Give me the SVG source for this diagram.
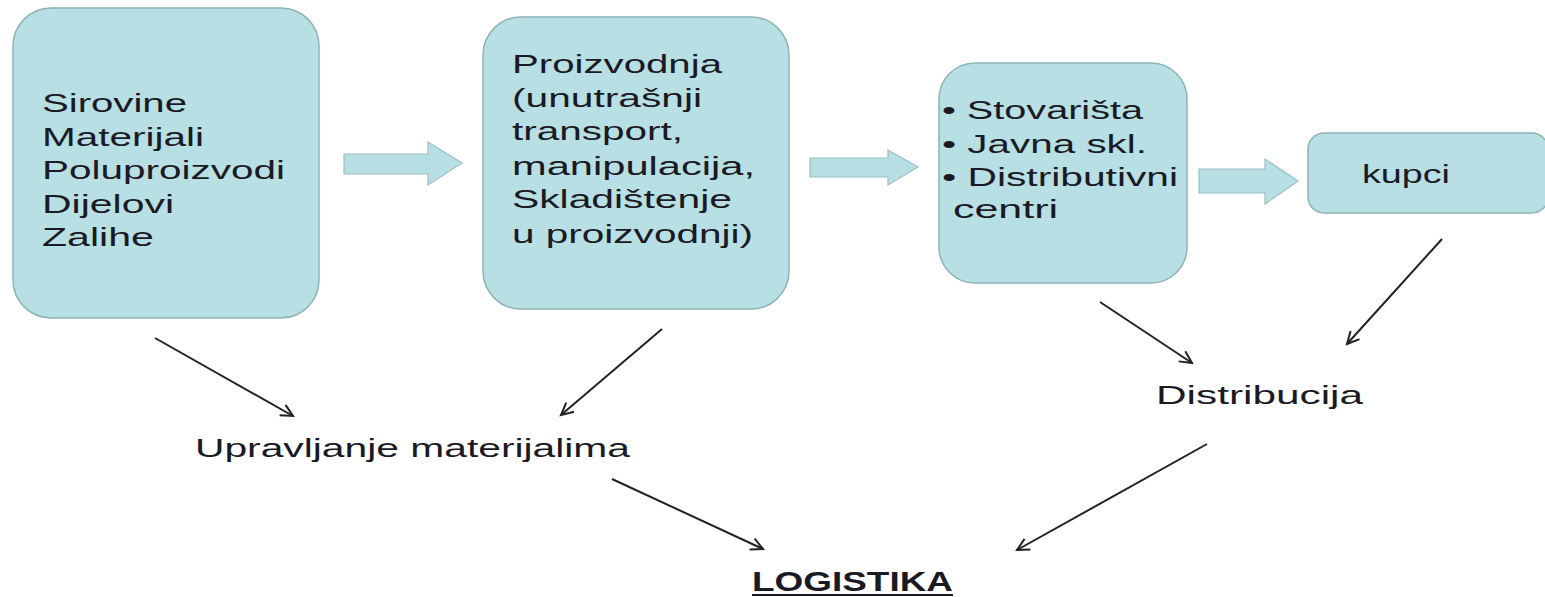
<svg xmlns="http://www.w3.org/2000/svg" width="1545" height="597" viewBox="0 0 1545 597">
<defs>
<marker id="ah" markerUnits="userSpaceOnUse" markerWidth="20" markerHeight="20" refX="14" refY="8" orient="auto">
<path d="M2,2 L14,8 L2,14" fill="none" stroke="#222" stroke-width="2"/>
</marker>
<style>
.box{fill:#b8dfe3;stroke:#8fb3b6;stroke-width:1.5}
.blk{fill:#b8dfe3;stroke:#9cc0c3;stroke-width:1.2}
.t{font-family:"Liberation Sans",Arial,sans-serif;font-size:26px;fill:#1a1a24}
.lbl{font-family:"Liberation Sans",Arial,sans-serif;font-size:25px;fill:#1a1a24}
.bold{font-family:"Liberation Sans",Arial,sans-serif;font-size:27px;font-weight:bold;fill:#1a1a24}
.c{stroke:#222;stroke-width:2;fill:none;marker-end:url(#ah)}
</style>
</defs>
<rect width="1545" height="597" fill="#fff"/>

<g id="node-sirovine">
<rect class="box" x="13" y="8" width="306" height="310" rx="38"/>
<text class="t" x="42" y="112" textLength="145" lengthAdjust="spacingAndGlyphs">Sirovine</text>
<text class="t" x="42" y="146" textLength="162" lengthAdjust="spacingAndGlyphs">Materijali</text>
<text class="t" x="42" y="179" textLength="243" lengthAdjust="spacingAndGlyphs">Poluproizvodi</text>
<text class="t" x="42" y="213" textLength="132" lengthAdjust="spacingAndGlyphs">Dijelovi</text>
<text class="t" x="42" y="246" textLength="112" lengthAdjust="spacingAndGlyphs">Zalihe</text>
</g>

<g id="node-proizvodnja">
<rect class="box" x="483" y="17" width="306" height="292" rx="38"/>
<text class="t" x="512" y="73" textLength="210" lengthAdjust="spacingAndGlyphs">Proizvodnja</text>
<text class="t" x="512" y="107" textLength="190" lengthAdjust="spacingAndGlyphs">(unutrašnji</text>
<text class="t" x="512" y="140" textLength="171" lengthAdjust="spacingAndGlyphs">transport,</text>
<text class="t" x="512" y="175" textLength="243" lengthAdjust="spacingAndGlyphs">manipulacija,</text>
<text class="t" x="512" y="208" textLength="220" lengthAdjust="spacingAndGlyphs">Skladištenje</text>
<text class="t" x="512" y="243" textLength="241" lengthAdjust="spacingAndGlyphs">u proizvodnji)</text>
</g>

<g id="node-stovarista">
<rect class="box" x="939" y="63" width="248" height="220" rx="36"/>
<text class="t" x="942" y="119" textLength="201" lengthAdjust="spacingAndGlyphs">• Stovarišta</text>
<text class="t" x="942" y="153" textLength="205" lengthAdjust="spacingAndGlyphs">• Javna skl.</text>
<text class="t" x="942" y="186" textLength="236" lengthAdjust="spacingAndGlyphs">• Distributivni</text>
<text class="t" x="953" y="218" textLength="105" lengthAdjust="spacingAndGlyphs">centri</text>
</g>

<g id="node-kupci">
<rect class="box" x="1308" y="133" width="240" height="80" rx="16"/>
<text class="t" x="1362" y="183" textLength="88" lengthAdjust="spacingAndGlyphs">kupci</text>
</g>

<g id="node-upravljanje">
<text class="lbl" x="195" y="457" textLength="435" lengthAdjust="spacingAndGlyphs">Upravljanje materijalima</text>
</g>

<g id="node-distribucija">
<text class="lbl" x="1156" y="404" textLength="207" lengthAdjust="spacingAndGlyphs">Distribucija</text>
</g>

<g id="node-logistika">
<text class="bold" x="752" y="591" textLength="201" lengthAdjust="spacingAndGlyphs">LOGISTIKA</text>
<line x1="752" y1="595" x2="953" y2="595" stroke="#1a1a24" stroke-width="2"/>
</g>

<g id="connectors">
<path class="blk" d="M344,154 L428,154 L428,142 L462,163 L428,185 L428,174 L344,174 Z"/>
<path class="blk" d="M810,158 L888,158 L888,150 L918,167 L888,185 L888,177 L810,177 Z"/>
<path class="blk" d="M1199,169 L1265,169 L1265,159 L1298,181 L1265,204 L1265,193 L1199,193 Z"/>
<line class="c" x1="155" y1="338" x2="293" y2="416"/>
<line class="c" x1="662" y1="329" x2="561" y2="415"/>
<line class="c" x1="1100" y1="302" x2="1192" y2="363"/>
<line class="c" x1="1442" y1="239" x2="1347" y2="344"/>
<line class="c" x1="612" y1="479" x2="763" y2="549"/>
<line class="c" x1="1207" y1="444" x2="1017" y2="550"/>
</g>
</svg>
